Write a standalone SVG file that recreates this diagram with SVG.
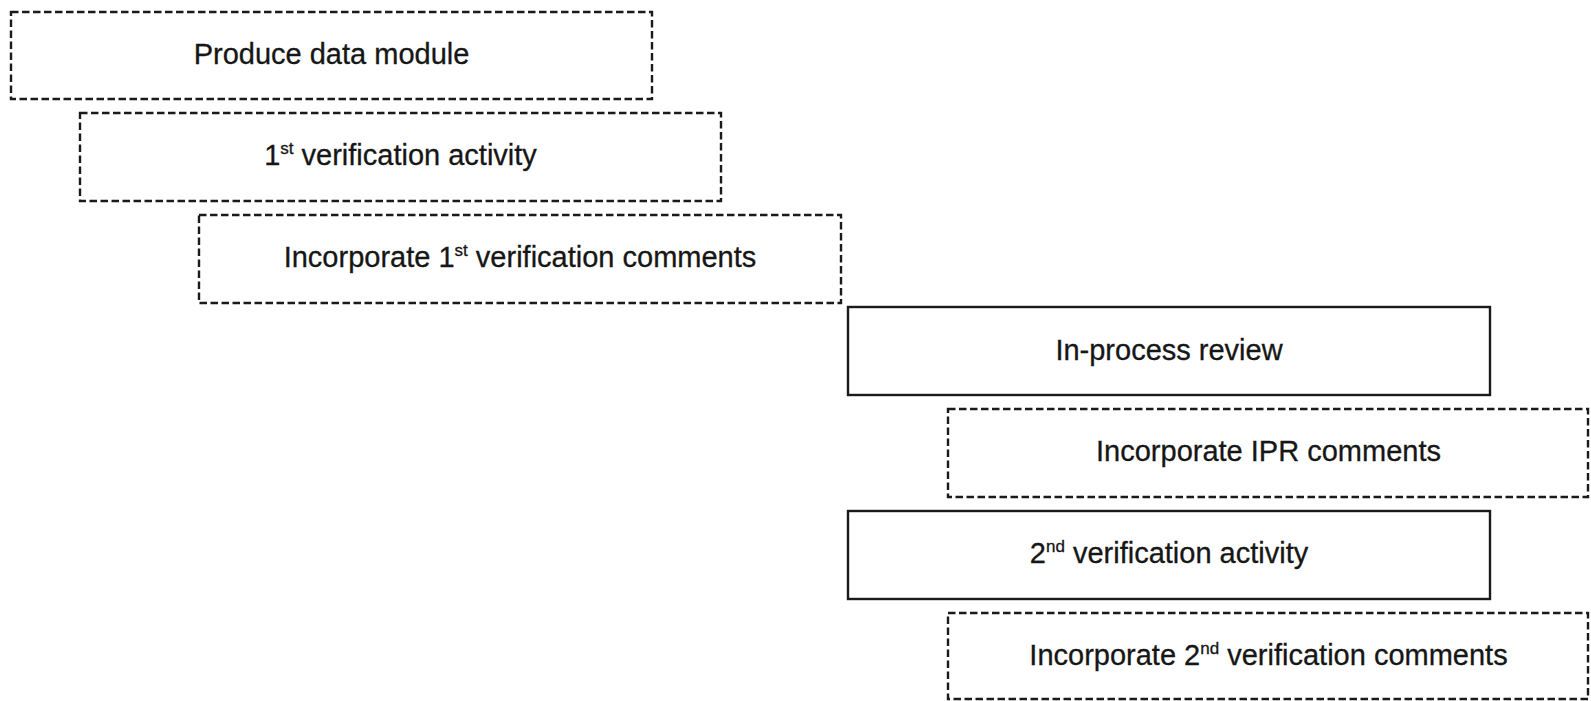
<svg xmlns="http://www.w3.org/2000/svg" width="1591" height="701" viewBox="0 0 1591 701">
<style>
.box{fill:#fff;stroke:#1a1a1a;stroke-width:2.4}
.dash{stroke-dasharray:7.5 3.5}
.lbl{font-family:"Liberation Sans",Arial,sans-serif;font-size:29px;fill:#161616;stroke:#161616;stroke-width:0.3;text-anchor:middle}
.sup{font-size:17px}
</style>
<rect width="1591" height="701" fill="#fff"/>
<g id="connectors"></g>
<g id="n1"><rect class="box dash" x="11" y="12" width="641" height="87"/><text class="lbl" x="331.5" y="64">Produce data module</text></g>
<g id="n2"><rect class="box dash" x="80" y="113" width="641" height="88"/><text class="lbl" x="400.5" y="165">1<tspan class="sup" dy="-11">st</tspan><tspan dy="11"> verification activity</tspan></text></g>
<g id="n3"><rect class="box dash" x="199" y="215" width="642" height="88"/><text class="lbl" x="520" y="267">Incorporate 1<tspan class="sup" dy="-11">st</tspan><tspan dy="11"> verification comments</tspan></text></g>
<g id="n4"><rect class="box" x="848" y="307" width="642" height="88"/><text class="lbl" x="1169" y="360">In-process review</text></g>
<g id="n5"><rect class="box dash" x="948" y="409" width="640" height="88"/><text class="lbl" x="1268.5" y="461">Incorporate IPR comments</text></g>
<g id="n6"><rect class="box" x="848" y="511" width="642" height="88"/><text class="lbl" x="1169" y="563">2<tspan class="sup" dy="-11">nd</tspan><tspan dy="11"> verification activity</tspan></text></g>
<g id="n7"><rect class="box dash" x="948" y="613" width="640" height="86"/><text class="lbl" x="1268.5" y="665">Incorporate 2<tspan class="sup" dy="-11">nd</tspan><tspan dy="11"> verification comments</tspan></text></g>
</svg>
